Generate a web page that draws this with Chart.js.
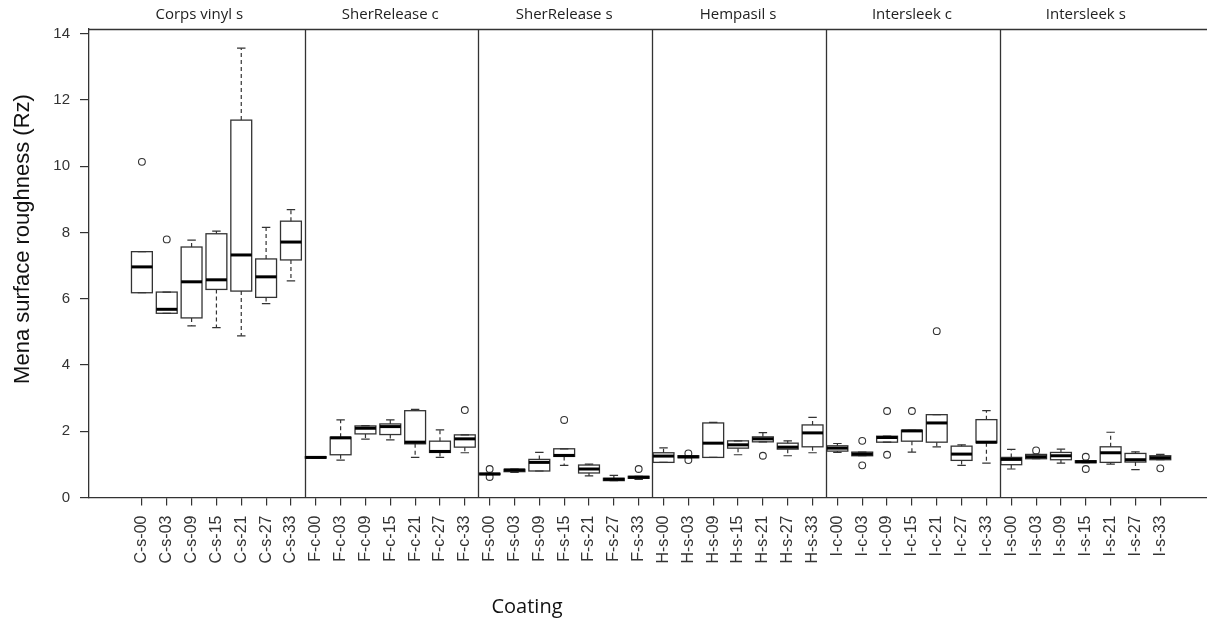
<!DOCTYPE html>
<html>
<head>
<meta charset="utf-8">
<script src="https://cdn.jsdelivr.net/npm/chart.js@4"></script>
<style>
    html, body { margin: 0; padding: 0; background: #fff; }
    #wrap { width: 1207px; height: 622px; }
</style>
</head>
<body>
<div id="wrap"><canvas id="chart" width="1207" height="622"></canvas></div>
<script>
const categories = [
    'C-s-00', 'C-s-03', 'C-s-09', 'C-s-15', 'C-s-21', 'C-s-27', 'C-s-33',
    'F-c-00', 'F-c-03', 'F-c-09', 'F-c-15', 'F-c-21', 'F-c-27', 'F-c-33',
    'F-s-00', 'F-s-03', 'F-s-09', 'F-s-15', 'F-s-21', 'F-s-27', 'F-s-33',
    'H-s-00', 'H-s-03', 'H-s-09', 'H-s-15', 'H-s-21', 'H-s-27', 'H-s-33',
    'I-c-00', 'I-c-03', 'I-c-09', 'I-c-15', 'I-c-21', 'I-c-27', 'I-c-33',
    'I-s-00', 'I-s-03', 'I-s-09', 'I-s-15', 'I-s-21', 'I-s-27', 'I-s-33'
];
const groups = ['Corps vinyl s', 'SherRelease c', 'SherRelease s', 'Hempasil s', 'Intersleek c', 'Intersleek s'];
const groupSize = 7;

const whiskerLow = [
    6.18, 5.56, 5.18, 5.13, 4.88, 5.85, 6.54,
    1.19, 1.13, 1.76, 1.74, 1.21, 1.21, 1.35,
    0.69, 0.76, 0.80, 0.97, 0.65, 0.51, 0.55,
    1.06, 1.20, 1.21, 1.29, 1.68, 1.26, 1.35,
    1.36, 1.26, 1.67, 1.37, 1.53, 0.97, 1.04,
    0.86, 1.17, 1.04, 1.05, 1.01, 0.84, 1.14
];
const lowerQuartile = [
    6.18, 5.56, 5.42, 6.28, 6.23, 6.04, 7.17,
    1.19, 1.29, 1.92, 1.90, 1.62, 1.36, 1.52,
    0.69, 0.78, 0.80, 1.24, 0.74, 0.51, 0.58,
    1.06, 1.20, 1.21, 1.49, 1.68, 1.46, 1.53,
    1.40, 1.26, 1.67, 1.70, 1.67, 1.12, 1.65,
    0.99, 1.17, 1.14, 1.05, 1.06, 1.07, 1.14
];
const median = [
    6.96, 5.68, 6.51, 6.57, 7.32, 6.66, 7.71,
    1.21, 1.80, 2.09, 2.14, 1.67, 1.39, 1.77,
    0.71, 0.83, 1.06, 1.27, 0.86, 0.55, 0.61,
    1.25, 1.23, 1.64, 1.59, 1.77, 1.52, 1.95,
    1.49, 1.31, 1.81, 2.01, 2.25, 1.31, 1.67,
    1.15, 1.23, 1.26, 1.08, 1.35, 1.14, 1.20
];
const upperQuartile = [
    7.42, 6.20, 7.56, 7.96, 11.39, 7.20, 8.34,
    1.23, 1.82, 2.16, 2.22, 2.62, 1.70, 1.89,
    0.73, 0.85, 1.15, 1.47, 0.98, 0.58, 0.64,
    1.35, 1.26, 2.25, 1.71, 1.83, 1.64, 2.19,
    1.56, 1.37, 1.85, 2.03, 2.50, 1.55, 2.35,
    1.21, 1.30, 1.36, 1.11, 1.53, 1.33, 1.26
];
const whiskerHigh = [
    7.42, 6.20, 7.77, 8.04, 13.56, 8.15, 8.69,
    1.23, 2.34, 2.17, 2.34, 2.66, 2.04, 1.89,
    0.73, 0.86, 1.36, 1.47, 1.01, 0.67, 0.64,
    1.50, 1.26, 2.27, 1.71, 1.96, 1.71, 2.42,
    1.63, 1.37, 1.85, 2.03, 2.50, 1.59, 2.62,
    1.45, 1.30, 1.46, 1.11, 1.97, 1.38, 1.30
];
const outliers = [
    [10.13], [7.79], [], [], [], [], [],
    [], [], [], [], [], [], [2.64],
    [0.86, 0.62], [], [], [2.34], [], [], [0.86],
    [], [1.33, 1.13], [], [], [1.26], [], [],
    [], [1.71, 0.97], [2.61, 1.29], [2.61], [5.02], [], [],
    [], [1.42], [], [1.23, 0.86], [], [], [0.88]
];
const yTicks = [0, 2, 4, 6, 8, 10, 12, 14];

const xMin = -2.13, xMax = 42.88;
const yMin = 0, yMax = 14.14;
const boxHalf = 0.42, capHalf = 0.17;
const ink = '#333';

const outlierPoints = outliers.flatMap((vals, i) => vals.map(v => ({ x: i, y: v })));

// boxes, whiskers, panel dividers and strip labels, drawn through the scales
const boxPlugin = {
    id: 'boxes',
    afterDatasetsDraw(chart) {
        const ctx = chart.ctx;
        const x = chart.scales.x, y = chart.scales.y;
        const area = chart.chartArea;
        ctx.save();
        ctx.strokeStyle = ink;

        // panel dividers
        ctx.lineWidth = 1.3;
        for (let g = 1; g < groups.length; g++) {
            const px = Math.round(x.getPixelForValue(g * groupSize - 0.45)) + 0.5;
            ctx.beginPath();
            ctx.moveTo(px, area.top);
            ctx.lineTo(px, area.bottom);
            ctx.stroke();
        }
        // top frame line
        ctx.beginPath();
        ctx.moveTo(area.left, area.top + 0.5);
        ctx.lineTo(area.right, area.top + 0.5);
        ctx.stroke();

        categories.forEach((c, i) => {
            const cx = x.getPixelForValue(i);
            const bw = x.getPixelForValue(i + boxHalf) - cx;
            const cw = x.getPixelForValue(i + capHalf) - cx;
            const yLo = y.getPixelForValue(whiskerLow[i]);
            const yQ1 = y.getPixelForValue(lowerQuartile[i]);
            const yMed = y.getPixelForValue(median[i]);
            const yQ3 = y.getPixelForValue(upperQuartile[i]);
            const yHi = y.getPixelForValue(whiskerHigh[i]);

            // whiskers
            ctx.lineWidth = 1.2;
            ctx.setLineDash([4, 3]);
            ctx.beginPath();
            ctx.moveTo(cx, yQ3); ctx.lineTo(cx, yHi);
            ctx.moveTo(cx, yQ1); ctx.lineTo(cx, yLo);
            ctx.stroke();
            ctx.setLineDash([]);
            // caps
            ctx.beginPath();
            ctx.moveTo(cx - cw, yHi); ctx.lineTo(cx + cw, yHi);
            ctx.moveTo(cx - cw, yLo); ctx.lineTo(cx + cw, yLo);
            ctx.stroke();
            // box
            ctx.lineWidth = 1.3;
            ctx.strokeRect(cx - bw, yQ3, bw * 2, yQ1 - yQ3);
            // median
            ctx.lineWidth = 3;
            ctx.strokeStyle = '#000';
            ctx.beginPath();
            ctx.moveTo(cx - bw, yMed); ctx.lineTo(cx + bw, yMed);
            ctx.stroke();
            ctx.strokeStyle = ink;
        });

        // strip labels
        ctx.fillStyle = '#222';
        ctx.font = '15px "Open Sans"';
        ctx.textAlign = 'center';
        ctx.textBaseline = 'alphabetic';
        groups.forEach((g, k) => {
            let mid = k * groupSize + (groupSize - 1) / 2;
            if (k === 0) mid = (xMin + groupSize - 0.45) / 2 + 0.1;
            ctx.fillText(g, x.getPixelForValue(mid), 19);
        });

        // axis titles
        ctx.font = '20px "Open Sans"';
        ctx.fillStyle = '#111';
        ctx.fillText('Coating', 527, 613);

        ctx.translate(29, 239);
        ctx.rotate(-Math.PI / 2);
        ctx.font = '22px "Liberation Sans", Arial';
        ctx.fillText('Mena surface roughness (Rz)', 0, 0);
        ctx.restore();
    }
};

const chart = new Chart(document.getElementById('chart'), {
    type: 'scatter',
    data: {
        datasets: [{
            label: 'Outliers',
            data: outlierPoints,
            pointStyle: 'circle',
            pointRadius: 3.4,
            pointBorderWidth: 1.1,
            borderColor: ink,
            backgroundColor: 'rgba(0,0,0,0)'
        }]
    },
    options: {
        responsive: false,
        animation: false,
        layout: { autoPadding: false, padding: { top: 29, right: 0, left: 0, bottom: 0 } },
        plugins: {
            legend: { display: false },
            tooltip: { enabled: false }
        },
        scales: {
            x: {
                type: 'linear',
                min: xMin,
                max: xMax,
                afterBuildTicks: (scale) => {
                    scale.ticks = categories.map((c, i) => ({ value: i }));
                },
                afterFit: (scale) => {
                    scale.height = 124.5;
                    scale.paddingLeft = 0;
                    scale.paddingRight = 0;
                },
                ticks: {
                    autoSkip: false,
                    minRotation: 90,
                    maxRotation: 90,
                    padding: 10,
                    color: '#333',
                    font: { family: '"Liberation Sans", Arial', size: 16 },
                    callback: (v) => categories[v]
                },
                grid: {
                    drawOnChartArea: false,
                    drawTicks: true,
                    tickLength: 8,
                    color: ink,
                    lineWidth: 1.2
                },
                border: { display: true, color: ink, width: 1.3 }
            },
            y: {
                min: yMin,
                max: yMax,
                afterBuildTicks: (scale) => {
                    scale.ticks = yTicks.map(v => ({ value: v }));
                },
                afterFit: (scale) => {
                    scale.width = 89;
                    scale.paddingTop = 0;
                    scale.paddingBottom = 0;
                },
                ticks: {
                    padding: 10,
                    color: '#333',
                    font: { family: '"Liberation Sans", Arial', size: 15 }
                },
                grid: {
                    drawOnChartArea: false,
                    drawTicks: true,
                    tickLength: 9,
                    color: ink,
                    lineWidth: 1.2
                },
                border: { display: true, color: ink, width: 1.3 }
            }
        }
    },
    plugins: [boxPlugin]
});
</script>
</body>
</html>
